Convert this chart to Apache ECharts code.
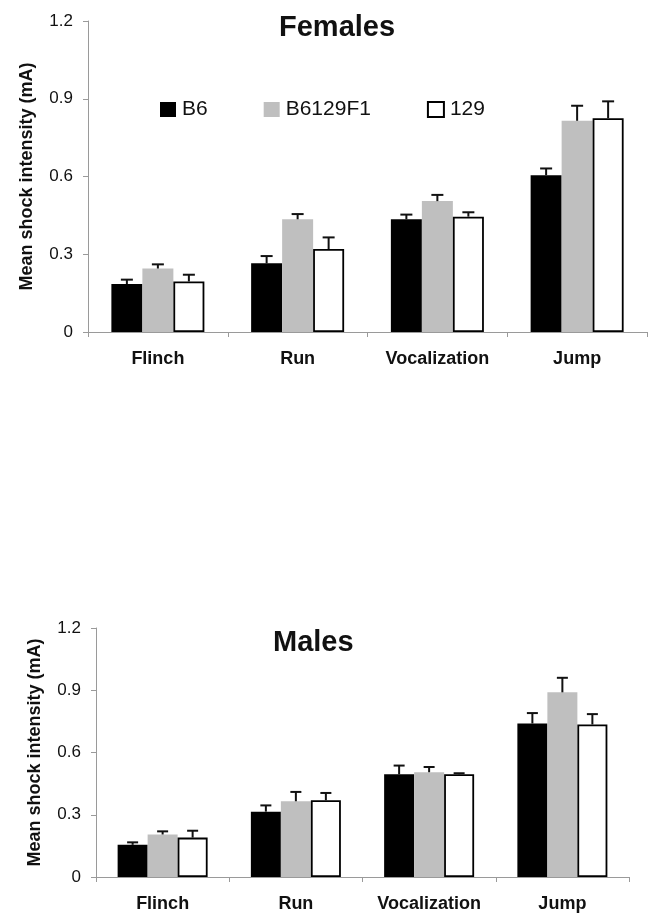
<!DOCTYPE html>
<html>
<head>
<meta charset="utf-8">
<script src="https://cdn.jsdelivr.net/npm/echarts@6/dist/echarts.min.js"></script>
<style>
html,body{margin:0;padding:0;background:#fff;}
#chart{width:650px;height:916px;}
</style>
</head>
<body>
<div id="chart"></div>
<script>
// ---- data ----
var categories = ['Flinch', 'Run', 'Vocalization', 'Jump'];
var seriesNames = ['B6', 'B6129F1', '129'];
var yTickLabels = ['0', '0.3', '0.6', '0.9', '1.2'];

var femalesB6 = [0.185, 0.265, 0.435, 0.605];
var femalesB6Err = [0.017, 0.028, 0.018, 0.026];
var femalesF1 = [0.245, 0.435, 0.505, 0.815];
var femalesF1Err = [0.016, 0.02, 0.024, 0.058];
var females129 = [0.195, 0.32, 0.445, 0.825];
var females129Err = [0.026, 0.045, 0.017, 0.065];

var malesB6 = [0.155, 0.315, 0.495, 0.74];
var malesB6Err = [0.012, 0.03, 0.042, 0.05];
var malesF1 = [0.205, 0.365, 0.505, 0.89];
var malesF1Err = [0.015, 0.045, 0.025, 0.07];
var males129 = [0.19, 0.37, 0.495, 0.735];
var males129Err = [0.033, 0.035, 0.005, 0.05];

// ---- styles ----
var FONT = '"Liberation Sans", Arial, sans-serif';
var colors = ['#000000', '#bfbfbf', '#ffffff'];
var borders = [
  {borderWidth: 0},
  {borderWidth: 0},
  {borderColor: '#000', borderWidth: 1.8}
];

function makeAxes(gi) {
  return {
    x: {
      type: 'category', gridIndex: gi, data: categories,
      axisLine: {lineStyle: {color: '#9a9a9a', width: 1}},
      axisTick: {show: true, length: 5, lineStyle: {color: '#9a9a9a'}},
      axisLabel: {color: '#111', fontFamily: FONT, fontWeight: 'bold', fontSize: 18, margin: 18, interval: 0, hideOverlap: false}
    },
    y: {
      type: 'value', gridIndex: gi, min: 0, max: 1.2, interval: 0.3,
      name: 'Mean shock intensity (mA)', nameLocation: 'middle', nameGap: 52,
      nameTextStyle: {color: '#111', fontFamily: FONT, fontWeight: 'bold', fontSize: 18},
      axisLine: {show: true, lineStyle: {color: '#9a9a9a', width: 1}},
      axisTick: {show: true, length: 5, lineStyle: {color: '#9a9a9a'}},
      splitLine: {show: false},
      axisLabel: {color: '#111', fontFamily: FONT, fontSize: 17, margin: 15,
        formatter: function (v) { return yTickLabels[Math.round(v / 0.3)]; }}
    }
  };
}

function barSeries(gi, vals, idx, bw) {
  return {
    type: 'bar', name: seriesNames[idx], xAxisIndex: gi, yAxisIndex: gi,
    data: vals, barWidth: bw, barGap: '0%',
    itemStyle: Object.assign({color: colors[idx]}, borders[idx]),
    emphasis: {disabled: true}, z: 2
  };
}

function errSeries(gi, vals, errs, idx, bw, cap) {
  var d = vals.map(function (v, i) { return [i, v, errs[i]]; });
  return {
    type: 'custom', xAxisIndex: gi, yAxisIndex: gi, z: 5,
    encode: {x: 0, y: 1},
    data: d,
    renderItem: function (params, api) {
      var x = api.value(0), v = api.value(1), e = api.value(2);
      var p0 = api.coord([x, v]);
      var p1 = api.coord([x, v + e]);
      var off = (idx - 1) * bw;
      var cx = p0[0] + off;
      return {
        type: 'group',
        children: [
          {type: 'line', shape: {x1: cx, y1: p0[1], x2: cx, y2: p1[1]}, style: {stroke: '#111', lineWidth: 2}},
          {type: 'line', shape: {x1: cx - cap / 2, y1: p1[1], x2: cx + cap / 2, y2: p1[1]}, style: {stroke: '#111', lineWidth: 2}}
        ]
      };
    }
  };
}

var a0 = makeAxes(0), a1 = makeAxes(1);
var BW0 = 31, BW1 = 30;

var option = {
  animation: false,
  backgroundColor: '#fff',
  textStyle: {fontFamily: FONT},
  title: [
    {text: 'Females', left: 279, top: 13, padding: 0,
      textStyle: {fontFamily: FONT, fontWeight: 'bold', fontSize: 29, color: '#111'}},
    {text: 'Males', left: 273, top: 628, padding: 0,
      textStyle: {fontFamily: FONT, fontWeight: 'bold', fontSize: 29, color: '#111'}}
  ],
  legend: {
    data: seriesNames, left: 160, top: 99, padding: 0, itemGap: 56,
    itemWidth: 16, itemHeight: 15, icon: 'rect', selectedMode: false,
    textStyle: {fontFamily: FONT, fontSize: 21, color: '#111', padding: [0, 0, 0, 1]}
  },
  grid: [
    {left: 88, right: 3, top: 21, height: 311, containLabel: false},
    {left: 96, right: 21, top: 628, height: 249, containLabel: false}
  ],
  xAxis: [a0.x, a1.x],
  yAxis: [a0.y, a1.y],
  series: [
    barSeries(0, femalesB6, 0, BW0),
    barSeries(0, femalesF1, 1, BW0),
    barSeries(0, females129, 2, BW0),
    errSeries(0, femalesB6, femalesB6Err, 0, BW0, 12),
    errSeries(0, femalesF1, femalesF1Err, 1, BW0, 12),
    errSeries(0, females129, females129Err, 2, BW0, 12),
    barSeries(1, malesB6, 0, BW1),
    barSeries(1, malesF1, 1, BW1),
    barSeries(1, males129, 2, BW1),
    errSeries(1, malesB6, malesB6Err, 0, BW1, 11),
    errSeries(1, malesF1, malesF1Err, 1, BW1, 11),
    errSeries(1, males129, males129Err, 2, BW1, 11)
  ]
};

var chart = echarts.init(document.getElementById('chart'), null, {renderer: 'canvas'});
chart.setOption(option);
</script>
</body>
</html>
